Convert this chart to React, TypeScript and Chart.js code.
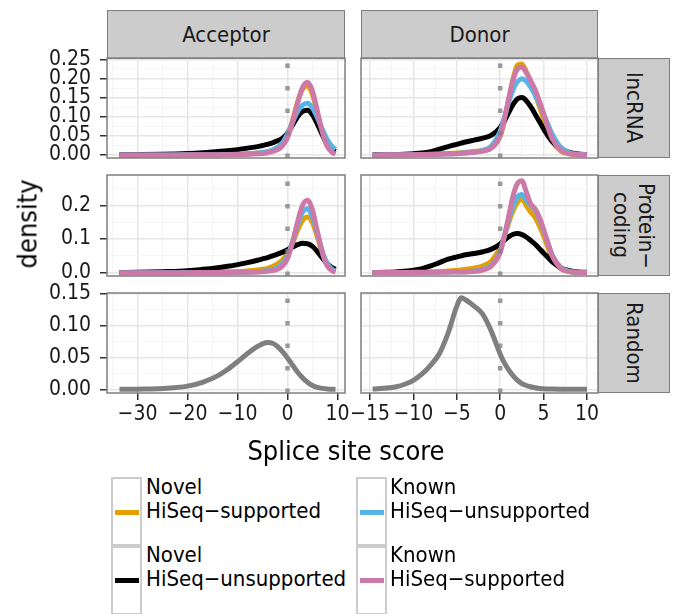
import React, { useEffect, useRef } from "react";
import { Chart, registerables } from "chart.js";
Chart.register(...registerables);

const FONT = "'DejaVu Sans Condensed', 'DejaVu Sans', 'Liberation Sans', Arial, sans-serif";

// ---------- categories / labels ----------
const columnLabels = ["Acceptor", "Donor"];
const rowLabels = ["lncRNA", "Protein\u2212\ncoding", "Random"];
const seriesLine1 = ["Novel", "Novel", "Known", "Known"];
const seriesLine2 = ["HiSeq\u2212supported", "HiSeq\u2212unsupported", "HiSeq\u2212unsupported", "HiSeq\u2212supported"];
const seriesColors = ["#E69F00", "#000000", "#56B4E9", "#CC79A7"];
const randomColor = "#7f7f7f";
const xTitle = "Splice site score";
const yTitle = "density";

// ---------- tick values ----------
const accXMajor = [-30, -20, -10, 0, 10];
const accXMinor = [-35, -25, -15, -5, 5];
const donXMajor = [-15, -10, -5, 0, 5, 10];
const donXMinor = [-12.5, -7.5, -2.5, 2.5, 7.5];
const lncYMajor = [0, 0.05, 0.1, 0.15, 0.2, 0.25];
const lncYMinor = [0.025, 0.075, 0.125, 0.175, 0.225];
const pcYMajor = [0, 0.1, 0.2];
const pcYMinor = [0.05, 0.15, 0.25];
const rndYMajor = [0, 0.05, 0.1, 0.15];
const rndYMinor = [0.025, 0.075, 0.125];

// ---------- Acceptor data ----------
const accX = [-33.6, -30, -25, -20, -17, -14, -12, -10, -8, -6, -5, -4, -3, -2, -1, 0, 1, 2, 3, 4, 5, 6, 7, 8, 9, 9.6];
const accLncNovelSup = [0, 0, 0, 0.0005, 0.001, 0.001, 0.0015, 0.002, 0.003, 0.005, 0.006, 0.008, 0.012, 0.018, 0.028, 0.05, 0.09, 0.138, 0.172, 0.18, 0.158, 0.108, 0.056, 0.022, 0.007, 0.004];
const accLncNovelUns = [0.0005, 0.001, 0.002, 0.004, 0.006, 0.009, 0.011, 0.014, 0.018, 0.022, 0.025, 0.028, 0.032, 0.037, 0.044, 0.057, 0.078, 0.1, 0.114, 0.117, 0.105, 0.08, 0.052, 0.028, 0.013, 0.009];
const accLncKnownUns = [0, 0, 0, 0.0005, 0.001, 0.001, 0.0015, 0.002, 0.003, 0.005, 0.007, 0.009, 0.013, 0.02, 0.032, 0.055, 0.085, 0.113, 0.13, 0.135, 0.123, 0.097, 0.066, 0.039, 0.021, 0.015];
const accLncKnownSup = [0, 0, 0, 0.0005, 0.0008, 0.001, 0.001, 0.0015, 0.002, 0.003, 0.004, 0.006, 0.009, 0.014, 0.024, 0.045, 0.085, 0.135, 0.176, 0.19, 0.167, 0.113, 0.058, 0.022, 0.006, 0.003];
const accPcNovelSup = [0, 0.0005, 0.0008, 0.001, 0.0015, 0.002, 0.0025, 0.003, 0.005, 0.008, 0.01, 0.013, 0.018, 0.026, 0.038, 0.058, 0.088, 0.125, 0.155, 0.165, 0.148, 0.105, 0.055, 0.022, 0.007, 0.004];
const accPcNovelUns = [0.0005, 0.001, 0.003, 0.006, 0.01, 0.015, 0.019, 0.024, 0.03, 0.037, 0.041, 0.045, 0.05, 0.055, 0.061, 0.068, 0.076, 0.083, 0.087, 0.086, 0.078, 0.062, 0.043, 0.026, 0.014, 0.01];
const accPcKnownUns = [0, 0, 0, 0.0003, 0.0005, 0.0008, 0.001, 0.001, 0.002, 0.003, 0.004, 0.006, 0.009, 0.015, 0.027, 0.05, 0.09, 0.14, 0.18, 0.19, 0.165, 0.115, 0.062, 0.026, 0.009, 0.005];
const accPcKnownSup = [0, 0, 0, 0.0002, 0.0004, 0.0006, 0.0008, 0.001, 0.0015, 0.002, 0.003, 0.004, 0.006, 0.01, 0.02, 0.042, 0.09, 0.15, 0.2, 0.215, 0.185, 0.12, 0.057, 0.019, 0.005, 0.002];
const accRandom = [0, 0.0003, 0.0012, 0.005, 0.011, 0.021, 0.031, 0.043, 0.056, 0.067, 0.071, 0.073, 0.072, 0.067, 0.059, 0.049, 0.038, 0.027, 0.018, 0.011, 0.006, 0.003, 0.0015, 0.0007, 0.0003, 0.0002];

// ---------- Donor data ----------
const donX = [-14.7, -13, -12, -11, -10, -9, -8, -7, -6, -5, -4.5, -4, -3, -2, -1, 0, 0.5, 1, 1.5, 2, 2.5, 3, 3.5, 4, 4.5, 5, 5.5, 6, 7, 8, 9, 10];
const donLncNovelSup = [0.0003, 0.0006, 0.001, 0.0013, 0.0016, 0.002, 0.0025, 0.003, 0.004, 0.005, 0.006, 0.007, 0.009, 0.012, 0.02, 0.05, 0.09, 0.145, 0.2, 0.235, 0.238, 0.218, 0.19, 0.16, 0.128, 0.095, 0.062, 0.035, 0.01, 0.003, 0.001, 0.0005];
const donLncNovelUns = [0.0005, 0.001, 0.0015, 0.002, 0.003, 0.005, 0.009, 0.015, 0.022, 0.028, 0.031, 0.034, 0.039, 0.044, 0.052, 0.072, 0.09, 0.112, 0.133, 0.147, 0.15, 0.142, 0.127, 0.108, 0.088, 0.068, 0.05, 0.035, 0.016, 0.007, 0.003, 0.001];
const donLncKnownUns = [0.0002, 0.0004, 0.0006, 0.0008, 0.001, 0.0015, 0.002, 0.0025, 0.003, 0.004, 0.005, 0.006, 0.008, 0.012, 0.024, 0.062, 0.1, 0.14, 0.172, 0.192, 0.199, 0.193, 0.178, 0.158, 0.135, 0.108, 0.08, 0.054, 0.02, 0.006, 0.002, 0.001];
const donLncKnownSup = [0.0002, 0.0004, 0.0006, 0.0008, 0.001, 0.0013, 0.0016, 0.002, 0.0025, 0.003, 0.004, 0.005, 0.007, 0.01, 0.018, 0.05, 0.095, 0.15, 0.198, 0.225, 0.23, 0.215, 0.195, 0.172, 0.142, 0.108, 0.072, 0.042, 0.012, 0.003, 0.001, 0.0005];
const donPcNovelSup = [0.0005, 0.0008, 0.001, 0.0013, 0.0016, 0.002, 0.002, 0.003, 0.005, 0.007, 0.008, 0.01, 0.014, 0.02, 0.035, 0.075, 0.11, 0.15, 0.185, 0.21, 0.218, 0.2, 0.18, 0.165, 0.14, 0.11, 0.075, 0.042, 0.012, 0.003, 0.001, 0.0005];
const donPcNovelUns = [0.0005, 0.001, 0.002, 0.004, 0.007, 0.012, 0.02, 0.03, 0.04, 0.047, 0.05, 0.053, 0.057, 0.062, 0.07, 0.085, 0.097, 0.107, 0.114, 0.116, 0.113, 0.106, 0.096, 0.085, 0.072, 0.058, 0.045, 0.032, 0.014, 0.006, 0.002, 0.001];
const donPcKnownUns = [0.0002, 0.0003, 0.0005, 0.0007, 0.001, 0.0013, 0.0016, 0.002, 0.0025, 0.003, 0.003, 0.003, 0.005, 0.01, 0.022, 0.065, 0.11, 0.16, 0.2, 0.225, 0.232, 0.215, 0.2, 0.188, 0.16, 0.125, 0.088, 0.052, 0.015, 0.004, 0.001, 0.0005];
const donPcKnownSup = [0.0002, 0.0003, 0.0004, 0.0005, 0.0007, 0.0009, 0.001, 0.0013, 0.0016, 0.002, 0.002, 0.002, 0.004, 0.008, 0.02, 0.06, 0.11, 0.17, 0.23, 0.265, 0.273, 0.24, 0.205, 0.19, 0.165, 0.128, 0.088, 0.05, 0.013, 0.003, 0.001, 0.0005];
const donRandom = [0.0005, 0.002, 0.004, 0.008, 0.014, 0.024, 0.038, 0.056, 0.088, 0.13, 0.143, 0.14, 0.13, 0.117, 0.09, 0.055, 0.041, 0.03, 0.021, 0.014, 0.009, 0.006, 0.004, 0.0025, 0.0015, 0.001, 0.0006, 0.0004, 0.0002, 0.0001, 0, 0];

// ---------- axis ranges ----------
const accXRange = [-36.1, 11.5];
const donXRange = [-16.04, 11.27];
const lncYRange = [-0.0078, 0.2534];
const pcYRange = [-0.0098, 0.2898];
const rndYRange = [-0.0057, 0.1505];

const PAD = 26;
const XAXIS_H = 40;
const TICK_FONT = 21;

function near(v: number, arr: number[]) {
  return arr.some((a) => Math.abs(a - v) < 1e-9);
}
function fmtX(v: number) {
  const r = Math.round(v * 1000) / 1000;
  return r < 0 ? "\u2212" + Math.abs(r) : String(r);
}

type Line = { xs: number[]; ys: number[]; color: string; order: number };
type PanelProps = {
  area: { left: number; top: number; right: number; bottom: number };
  showY: boolean;
  showX: boolean;
  xRange: number[];
  xMajor: number[];
  xMinor: number[];
  yRange: number[];
  yMajor: number[];
  yMinor: number[];
  yDigits: number;
  lines: Line[];
};

const borderPlugin = {
  id: "panelBorder",
  afterDraw(chart: any) {
    const { left, top, right, bottom } = chart.chartArea;
    const ctx = chart.ctx;
    ctx.save();
    ctx.strokeStyle = "#7f7f7f";
    ctx.lineWidth = 1.5;
    ctx.strokeRect(left, top, right - left, bottom - top);
    ctx.restore();
  },
};

function Panel(p: PanelProps) {
  const ref = useRef<HTMLCanvasElement>(null);
  const a = p.area;
  const cLeft = p.showY ? 0 : a.left - PAD;
  const cTop = a.top - PAD;
  const cW = a.right + PAD - cLeft;
  const cH = a.bottom - a.top + 2 * PAD + (p.showX ? XAXIS_H : 0);

  useEffect(() => {
    if (!ref.current) return;
    const datasets: any[] = p.lines.map((l) => ({
      data: l.xs.map((x, i) => ({ x, y: l.ys[i] })),
      borderColor: l.color,
      backgroundColor: l.color,
      borderWidth: 5,
      pointRadius: 0,
      cubicInterpolationMode: "monotone",
      fill: false,
      clip: 0,
      order: l.order,
      borderCapStyle: "butt",
      borderJoinStyle: "round",
    }));
    datasets.push({
      data: [
        { x: 0, y: p.yRange[0] },
        { x: 0, y: p.yRange[1] },
      ],
      borderColor: "rgba(128,128,128,0.78)",
      borderWidth: 4.5,
      borderDash: [4.5, 18],
      pointRadius: 0,
      fill: false,
      clip: 0,
      order: 0,
      borderCapStyle: "butt",
    });
    const xAll = [...p.xMajor, ...p.xMinor].sort((u, v) => u - v);
    const yAll = [...p.yMajor, ...p.yMinor].sort((u, v) => u - v);
    const gridColor = (maj: number[]) => (ctx: any) =>
      ctx.tick && near(ctx.tick.value, maj) ? "#e6e6e6" : "#f2f2f2";
    const gridWidth = (maj: number[]) => (ctx: any) =>
      ctx.tick && near(ctx.tick.value, maj) ? 1.5 : 0.8;
    const tickColor = (maj: number[]) => (ctx: any) =>
      ctx.tick && near(ctx.tick.value, maj) ? "#333333" : "rgba(0,0,0,0)";

    const chart = new Chart(ref.current, {
      type: "line",
      data: { datasets },
      plugins: [borderPlugin],
      options: {
        animation: false,
        responsive: false,
        maintainAspectRatio: false,
        devicePixelRatio: 1,
        events: [],
        layout: {
          padding: {
            left: p.showY ? 0 : PAD,
            right: PAD,
            top: PAD,
            bottom: PAD,
          },
        },
        plugins: {
          legend: { display: false },
          tooltip: { enabled: false },
        },
        scales: {
          x: {
            type: "linear",
            min: p.xRange[0],
            max: p.xRange[1],
            afterBuildTicks: (s: any) => {
              s.ticks = xAll.map((v) => ({ value: v }));
            },
            afterFit: (s: any) => {
              s.height = p.showX ? XAXIS_H : 0;
            },
            border: { display: false },
            grid: {
              color: gridColor(p.xMajor),
              lineWidth: gridWidth(p.xMajor),
              drawTicks: p.showX,
              tickLength: 7,
              tickWidth: 1.5,
              tickColor: tickColor(p.xMajor),
            },
            ticks: {
              display: p.showX,
              autoSkip: false,
              maxRotation: 0,
              minRotation: 0,
              padding: 2,
              color: "#1a1a1a",
              font: { family: FONT, size: TICK_FONT },
              callback: (v: any) => (near(Number(v), p.xMajor) ? fmtX(Number(v)) : ""),
            },
          },
          y: {
            type: "linear",
            min: p.yRange[0],
            max: p.yRange[1],
            afterBuildTicks: (s: any) => {
              s.ticks = yAll.map((v) => ({ value: v }));
            },
            afterFit: (s: any) => {
              s.width = p.showY ? a.left : 0;
            },
            border: { display: false },
            grid: {
              color: gridColor(p.yMajor),
              lineWidth: gridWidth(p.yMajor),
              drawTicks: p.showY,
              tickLength: 7,
              tickWidth: 1.5,
              tickColor: tickColor(p.yMajor),
            },
            ticks: {
              display: p.showY,
              autoSkip: false,
              padding: 9,
              color: "#1a1a1a",
              font: { family: FONT, size: TICK_FONT },
              callback: (v: any) =>
                near(Number(v), p.yMajor) ? Number(v).toFixed(p.yDigits) : "",
            },
          },
        },
      } as any,
    });
    return () => chart.destroy();
  }, []);

  return (
    <canvas
      ref={ref}
      width={cW}
      height={cH}
      style={{ position: "absolute", left: cLeft, top: cTop, width: cW, height: cH }}
    />
  );
}

const COLS = [
  { left: 107, right: 345 },
  { left: 361, right: 598 },
];
const ROWS = [
  { top: 58, bottom: 158 },
  { top: 175, bottom: 276 },
  { top: 293, bottom: 393 },
];

function mk(xs: number[], ys: number[][]): Line[] {
  const orders = [4, 3, 2, 1];
  return ys.map((y, i) => ({ xs, ys: y, color: seriesColors[i], order: orders[i] }));
}

const stripStyle: React.CSSProperties = {
  position: "absolute",
  boxSizing: "border-box",
  background: "#cccccc",
  border: "1.5px solid #7f7f7f",
  display: "flex",
  alignItems: "center",
  justifyContent: "center",
  color: "#1a1a1a",
  fontSize: 22,
  fontFamily: FONT,
};

export default function App() {
  const panels: PanelProps[] = [];
  const colCfg = [
    { xRange: accXRange, xMajor: accXMajor, xMinor: accXMinor },
    { xRange: donXRange, xMajor: donXMajor, xMinor: donXMinor },
  ];
  const rowCfg = [
    { yRange: lncYRange, yMajor: lncYMajor, yMinor: lncYMinor, yDigits: 2 },
    { yRange: pcYRange, yMajor: pcYMajor, yMinor: pcYMinor, yDigits: 1 },
    { yRange: rndYRange, yMajor: rndYMajor, yMinor: rndYMinor, yDigits: 2 },
  ];
  const lineSets: Line[][][] = [
    [
      mk(accX, [accLncNovelSup, accLncNovelUns, accLncKnownUns, accLncKnownSup]),
      mk(accX, [accPcNovelSup, accPcNovelUns, accPcKnownUns, accPcKnownSup]),
      [{ xs: accX, ys: accRandom, color: randomColor, order: 1 }],
    ],
    [
      mk(donX, [donLncNovelSup, donLncNovelUns, donLncKnownUns, donLncKnownSup]),
      mk(donX, [donPcNovelSup, donPcNovelUns, donPcKnownUns, donPcKnownSup]),
      [{ xs: donX, ys: donRandom, color: randomColor, order: 1 }],
    ],
  ];
  for (let c = 0; c < 2; c++) {
    for (let r = 0; r < 3; r++) {
      panels.push({
        area: { left: COLS[c].left, right: COLS[c].right, top: ROWS[r].top, bottom: ROWS[r].bottom },
        showY: c === 0,
        showX: r === 2,
        ...colCfg[c],
        ...rowCfg[r],
        lines: lineSets[c][r],
      });
    }
  }

  const keyLeft = [111, 356];
  const textLeft = [146, 390];
  const keyTop = [477, 546];
  const textTop = [475, 543];
  const lineY = [512, 580];
  const legendPos = [
    { col: 0, row: 0 },
    { col: 0, row: 1 },
    { col: 1, row: 0 },
    { col: 1, row: 1 },
  ];

  return (
    <div
      style={{
        position: "fixed",
        left: 0,
        top: 0,
        width: 680,
        height: 614,
        background: "#ffffff",
        overflow: "hidden",
        fontFamily: FONT,
      }}
    >
      {columnLabels.map((t, c) => (
        <div
          key={"cs" + c}
          style={{ ...stripStyle, left: COLS[c].left, top: 10, width: COLS[c].right - COLS[c].left, height: 48.5 }}
        >
          {t}
        </div>
      ))}
      {rowLabels.map((t, r) => (
        <div
          key={"rs" + r}
          style={{
            ...stripStyle,
            left: 598,
            top: ROWS[r].top,
            width: 72,
            height: ROWS[r].bottom - ROWS[r].top,
          }}
        >
          <div style={{ writingMode: "vertical-rl", whiteSpace: "pre", lineHeight: "25px", textAlign: "center" }}>
            {t}
          </div>
        </div>
      ))}
      {panels.map((p, i) => (
        <Panel key={"p" + i} {...p} />
      ))}
      <div
        style={{
          position: "absolute",
          left: 27,
          top: 224,
          transform: "translate(-50%,-50%) rotate(-90deg)",
          fontSize: 27,
          lineHeight: 1,
          whiteSpace: "nowrap",
          color: "#000",
        }}
      >
        {yTitle}
      </div>
      <div
        style={{
          position: "absolute",
          left: 346,
          top: 450,
          transform: "translate(-50%,-50%)",
          fontSize: 27,
          lineHeight: 1,
          whiteSpace: "nowrap",
          color: "#000",
        }}
      >
        {xTitle}
      </div>
      {legendPos.map((lp, i) => (
        <React.Fragment key={"lg" + i}>
          <div
            style={{
              position: "absolute",
              boxSizing: "border-box",
              left: keyLeft[lp.col],
              top: keyTop[lp.row],
              width: 31,
              height: 69,
              border: "2px solid #cccccc",
              background: "#fff",
            }}
          />
          <div
            style={{
              position: "absolute",
              left: keyLeft[lp.col] + 4,
              top: lineY[lp.row] - 2.5,
              width: 24,
              height: 5,
              background: seriesColors[i],
            }}
          />
          <div
            style={{
              position: "absolute",
              left: textLeft[lp.col],
              top: textTop[lp.row],
              fontSize: 22,
              lineHeight: "24px",
              whiteSpace: "nowrap",
              color: "#000",
            }}
          >
            {seriesLine1[i]}
            <br />
            {seriesLine2[i]}
          </div>
        </React.Fragment>
      ))}
    </div>
  );
}
